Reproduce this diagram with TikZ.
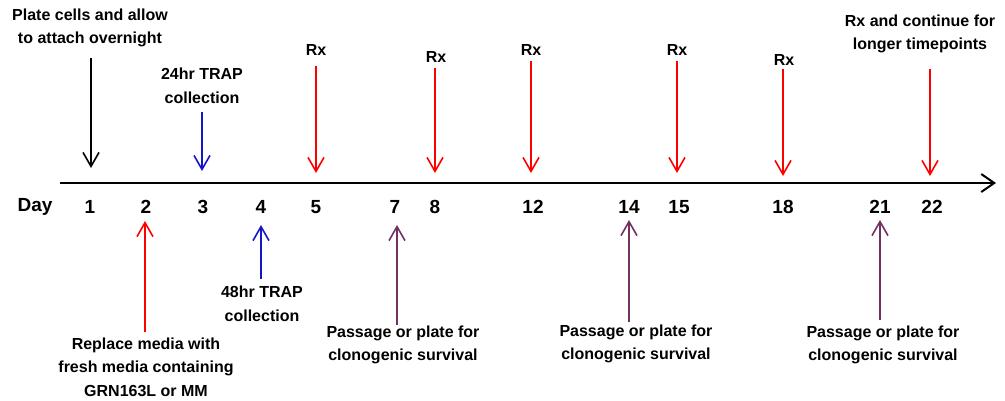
\documentclass[tikz,border=0pt]{standalone}
\usepackage{fontspec}
\setmainfont{Liberation Sans}
\usetikzlibrary{arrows.meta}
\definecolor{rxred}{RGB}{255,0,0}
\definecolor{trapblue}{RGB}{20,20,200}
\definecolor{passpurple}{RGB}{112,48,96}
\begin{document}
\begin{tikzpicture}[x=1pt,y=-1pt,
  note/.style={font=\bfseries\fontsize{16}{23.5}\selectfont,align=center,inner sep=0pt},
  daylbl/.style={font=\bfseries\fontsize{19}{22}\selectfont,inner sep=0pt},
  evarrow/.style={line width=1.6pt,-{Straight Barb[length=14pt,width=16pt,line width=1.6pt]}},
  axisline/.style={line width=2.4pt,-{Straight Barb[length=13pt,width=18pt,line width=2pt]}}]
\useasboundingbox (0,0) rectangle (1005,400);
\fill[white] (0,0) rectangle (1005,400);

% time axis
\coordinate (axs) at (60,183);
\coordinate (axe) at (996,183);
\draw[axisline] (axs) -- (axe);

% day labels
\node[daylbl] (lday) at (35,207) {Day};
\foreach \d/\x in {1/90,2/146,3/203,4/261,5/316,7/395,8/435,12/533,14/629,15/679,18/783,21/880,22/932}
  \node[daylbl] (d\d) at (\x,207) {\d};

% events above the axis
\node[note] (tplate) at (90,28) {Plate cells and allow\\to attach overnight};
\coordinate (p1s) at (91,58);  \coordinate (p1e) at (91,168);
\draw[evarrow,black] (p1s) -- (p1e);

\node[note] (t24) at (202,86) {24hr TRAP\\collection};
\coordinate (b1s) at (202,112); \coordinate (b1e) at (202,171);
\draw[evarrow,trapblue] (b1s) -- (b1e);

\node[note] (rx5) at (316,50) {Rx};
\coordinate (r5s) at (316,66); \coordinate (r5e) at (316,173);
\draw[evarrow,rxred] (r5s) -- (r5e);

\node[note] (rx8) at (436,57) {Rx};
\coordinate (r8s) at (435,68); \coordinate (r8e) at (435,173);
\draw[evarrow,rxred] (r8s) -- (r8e);

\node[note] (rx12) at (531,50) {Rx};
\coordinate (r12s) at (531,61); \coordinate (r12e) at (531,173);
\draw[evarrow,rxred] (r12s) -- (r12e);

\node[note] (rx15) at (677,50) {Rx};
\coordinate (r15s) at (677,61); \coordinate (r15e) at (677,173);
\draw[evarrow,rxred] (r15s) -- (r15e);

\node[note] (rx18) at (784,60) {Rx};
\coordinate (r18s) at (783,69); \coordinate (r18e) at (783,176);
\draw[evarrow,rxred] (r18s) -- (r18e);

\node[note] (trx) at (920,34) {Rx and continue for\\longer timepoints};
\coordinate (r22s) at (930,69); \coordinate (r22e) at (930,176);
\draw[evarrow,rxred] (r22s) -- (r22e);

% events below the axis
\coordinate (m2s) at (145,332); \coordinate (m2e) at (145,221);
\draw[evarrow,rxred] (m2s) -- (m2e);
\node[note] (tmedia) at (146,367) {Replace media with\\fresh media containing\\GRN163L or MM};

\coordinate (b2s) at (261,279); \coordinate (b2e) at (261,225);
\draw[evarrow,trapblue] (b2s) -- (b2e);
\node[note] (t48) at (262,304) {48hr TRAP\\collection};

\coordinate (q7s) at (397,325); \coordinate (q7e) at (397,225);
\draw[evarrow,passpurple] (q7s) -- (q7e);
\node[note] (tp7) at (403,345) {Passage or plate for\\clonogenic survival};

\coordinate (q14s) at (629,322); \coordinate (q14e) at (629,220);
\draw[evarrow,passpurple] (q14s) -- (q14e);
\node[note] (tp14) at (636,344) {Passage or plate for\\clonogenic survival};

\coordinate (q21s) at (880,320); \coordinate (q21e) at (880,220);
\draw[evarrow,passpurple] (q21s) -- (q21e);
\node[note] (tp21) at (883,345) {Passage or plate for\\clonogenic survival};
\end{tikzpicture}
\end{document}
